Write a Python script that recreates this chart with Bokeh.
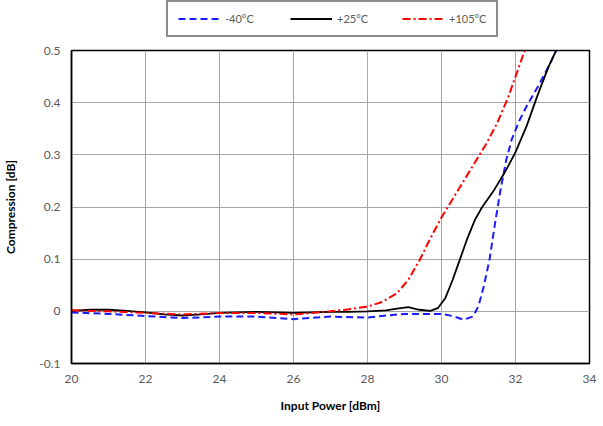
from bokeh.plotting import figure
from bokeh.layouts import column
from bokeh.models import Legend, LegendItem, Range1d, FixedTicker, CustomJSTickFormatter
from bokeh.embed import file_html
from bokeh.resources import INLINE

# -40°C
x_cold = [20, 21, 22, 23, 24, 25, 26, 27, 28, 28.5, 29, 29.5, 30, 30.3, 30.6, 30.85,
          31.0, 31.15, 31.3, 31.45, 31.6, 31.75, 31.9, 32.1, 32.3, 32.6, 32.9, 33.1]
y_cold = [-0.002, -0.005, -0.009, -0.013, -0.010, -0.010, -0.015, -0.010, -0.012, -0.008,
          -0.005, -0.005, -0.005, -0.009, -0.016, -0.010, 0.010, 0.050, 0.100, 0.170,
          0.235, 0.290, 0.330, 0.365, 0.393, 0.430, 0.470, 0.500]

# +25°C
x_room = [20, 20.5, 21, 21.5, 22, 22.5, 23, 23.5, 24, 24.5, 25, 25.5, 26, 26.5, 27, 27.5,
          28, 28.5, 28.8, 29.1, 29.4, 29.7, 29.9, 30.1, 30.3, 30.5, 30.7, 30.9, 31.1,
          31.4, 31.7, 32.0, 32.3, 32.6, 32.9, 33.1]
y_room = [0.001, 0.003, 0.003, 0.001, -0.002, -0.006, -0.008, -0.006, -0.003, -0.002,
          -0.001, -0.002, -0.003, -0.002, -0.001, -0.001, 0.000, 0.002, 0.005, 0.008,
          0.003, 0.001, 0.006, 0.025, 0.060, 0.100, 0.140, 0.175, 0.200, 0.230, 0.265,
          0.305, 0.355, 0.415, 0.470, 0.500]

# +105°C
x_hot = [20, 21, 22, 23, 24, 25, 26, 26.5, 27, 27.5, 28, 28.4, 28.8, 29.1, 29.4, 29.7,
         30.0, 30.3, 30.6, 30.9, 31.2, 31.5, 31.8, 32.0, 32.25]
y_hot = [0.002, 0.000, -0.003, -0.006, -0.003, -0.003, -0.006, -0.003, 0.000, 0.004,
         0.009, 0.018, 0.035, 0.060, 0.097, 0.140, 0.180, 0.215, 0.250, 0.285, 0.320,
         0.360, 0.410, 0.450, 0.500]

x_ticks = [20, 22, 24, 26, 28, 30, 32, 34]
y_ticks = [-0.1, 0.0, 0.1, 0.2, 0.3, 0.4, 0.5]
labels = ["-40°C", "+25°C", "+105°C"]

FONT = "Lato"
COLORS = ["#1a1aff", "black", "#ff0000"]
DASHES = ["7 4", "solid", "8 3 2 3"]
WIDTHS = [2, 1.8, 2]
series = [(x_cold, y_cold), (x_room, y_room), (x_hot, y_hot)]

# ---------- main chart ----------
p = figure(frame_width=518, frame_height=313, output_backend="svg", toolbar_location=None,
           x_range=Range1d(20, 34), y_range=Range1d(-0.1, 0.5),
           min_border_left=40, min_border_right=7, min_border_top=12, min_border_bottom=30)

p.background_fill_color = "white"
p.border_fill_color = "white"
p.outline_line_color = "black"
p.outline_line_width = 1.5

for ax in (p.xaxis[0], p.yaxis[0]):
    ax.axis_line_color = "black"
    ax.axis_line_width = 1.5
    ax.major_tick_line_color = None
    ax.minor_tick_line_color = None
    ax.major_tick_out = 0
    ax.major_tick_in = 0
    ax.minor_tick_out = 0
    ax.minor_tick_in = 0
    ax.major_label_text_font = FONT
    ax.major_label_text_font_size = "12px"
    ax.major_label_text_color = "#595959"
    ax.axis_label_text_font = FONT
    ax.axis_label_text_font_size = "12px"
    ax.axis_label_text_font_style = "bold"
    ax.axis_label_text_color = "#000000"

p.xaxis.ticker = FixedTicker(ticks=x_ticks)
p.yaxis.ticker = FixedTicker(ticks=y_ticks)
p.yaxis.formatter = CustomJSTickFormatter(
    code="return Math.abs(tick) < 1e-9 ? '0' : tick.toFixed(1);")
p.xaxis.axis_label = "Input Power [dBm]"
p.yaxis.axis_label = "Compression [dB]"
p.xaxis.major_label_standoff = 11
p.xaxis.axis_label_standoff = 12
p.yaxis.major_label_standoff = 11
p.yaxis.axis_label_standoff = 18

for g in (p.xgrid, p.ygrid):
    g.grid_line_color = "#a6a6a6"
    g.grid_line_width = 1
p.xgrid.ticker = FixedTicker(ticks=x_ticks)
p.ygrid.ticker = FixedTicker(ticks=y_ticks)

for (xs, ys), c, d, w in zip(series, COLORS, DASHES, WIDTHS):
    p.line(xs, ys, line_color=c, line_width=w, line_dash=d)

# ---------- legend strip (its own small figure above the chart) ----------
lg = figure(frame_width=584, frame_height=38, output_backend="svg", toolbar_location=None,
            x_axis_type=None, y_axis_type=None,
            x_range=Range1d(0, 1), y_range=Range1d(0, 1),
            min_border_left=0, min_border_right=0, min_border_top=0, min_border_bottom=0)
lg.outline_line_color = None
lg.background_fill_color = "white"
lg.border_fill_color = "white"
lg.xgrid.visible = False
lg.ygrid.visible = False
items = []
for (xs, ys), lab, c, d, w in zip(series, labels, COLORS, DASHES, WIDTHS):
    # same data, but outside this strip's ranges, so only the legend glyph shows
    r = lg.line(xs, ys, line_color=c, line_width=w, line_dash=d)
    items.append(LegendItem(label=lab, renderers=[r]))

legend = Legend(items=items, orientation="horizontal", location=(166, 1),
                border_line_color="#1a1a1a", border_line_width=2,
                background_fill_color="white", background_fill_alpha=1,
                label_text_font=FONT, label_text_font_size="11px",
                label_text_color="#595959", glyph_width=42, glyph_height=13,
                label_height=13, label_width=36, spacing=29, padding=10,
                label_standoff=5, margin=0)
lg.add_layout(legend, "center")

layout = column(lg, p, spacing=0)
open("out.html", "w").write(file_html(layout, INLINE))
